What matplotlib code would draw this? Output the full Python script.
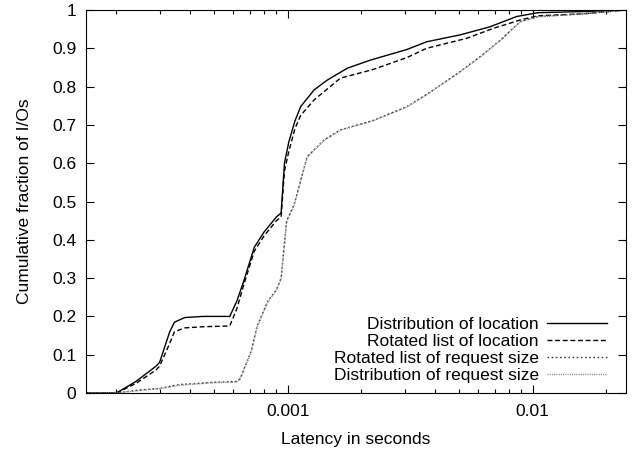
import numpy as np
import matplotlib
matplotlib.use("Agg")
import matplotlib.pyplot as plt
from matplotlib.ticker import FixedLocator, LogLocator, NullFormatter, FuncFormatter

plt.rcParams['font.family'] = ['Liberation Sans', 'DejaVu Sans']

# latency (s) / cumulative fraction
loc_x = [0.00015, 0.0002, 0.00024, 0.00029, 0.0003, 0.00033, 0.000345, 0.00038,
         0.00045, 0.00058, 0.00062, 0.00066, 0.00073, 0.0008, 0.0009, 0.00094,
         0.00097, 0.00101, 0.00107, 0.00113, 0.00128, 0.00145, 0.00175, 0.00217,
         0.00307, 0.00369, 0.00505, 0.00668, 0.0086, 0.0105, 0.016, 0.024]
loc_y = [0, 0, 0.03, 0.07, 0.08, 0.16, 0.185, 0.197,
         0.2, 0.2, 0.24, 0.29, 0.38, 0.42, 0.46, 0.47,
         0.6, 0.655, 0.71, 0.748, 0.791, 0.817, 0.848, 0.869,
         0.897, 0.917, 0.935, 0.956, 0.983, 0.993, 0.996, 1.0]

rot_loc_x = [0.00015, 0.0002, 0.00024, 0.00029, 0.0003, 0.00033, 0.000345, 0.00038,
             0.00045, 0.00058, 0.00062, 0.00066, 0.00073, 0.0008, 0.0009, 0.00094,
             0.00097, 0.00101, 0.00107, 0.00113, 0.00128, 0.00164, 0.00224, 0.00307,
             0.00369, 0.00537, 0.0069, 0.0089, 0.0105, 0.016, 0.024]
rot_loc_y = [0, 0, 0.025, 0.06, 0.07, 0.13, 0.16, 0.17,
             0.173, 0.175, 0.22, 0.28, 0.37, 0.41, 0.45, 0.46,
             0.58, 0.63, 0.69, 0.725, 0.765, 0.822, 0.845, 0.876,
             0.9, 0.926, 0.952, 0.974, 0.985, 0.99, 1.0]

rot_req_x = [0.00015, 0.0002, 0.00025, 0.0003, 0.00036, 0.0005, 0.00062, 0.00064,
             0.00068, 0.00071, 0.00075, 0.00083, 0.0009, 0.00094, 0.00099, 0.00106,
             0.0012, 0.00141, 0.00164, 0.00224, 0.00307, 0.00374, 0.00495, 0.0061,
             0.0074, 0.0089, 0.0105, 0.016, 0.024]
rot_req_y = [0, 0, 0.008, 0.012, 0.022, 0.028, 0.03, 0.038,
             0.08, 0.11, 0.175, 0.24, 0.27, 0.3, 0.45, 0.49,
             0.617, 0.661, 0.687, 0.712, 0.748, 0.782, 0.835, 0.878,
             0.922, 0.97, 0.983, 0.99, 1.0]

req_x = [0.00015, 0.0002, 0.00025, 0.0003, 0.00036, 0.0005, 0.00062, 0.00064,
         0.00068, 0.00071, 0.00075, 0.00083, 0.0009, 0.00094, 0.00099, 0.00106,
         0.0012, 0.00141, 0.00164, 0.00224, 0.00307, 0.00374, 0.00495, 0.0061,
         0.0074, 0.0089, 0.0105, 0.016, 0.024]
req_y = [0, 0, 0.007, 0.011, 0.02, 0.027, 0.029, 0.036,
         0.078, 0.108, 0.172, 0.238, 0.268, 0.298, 0.448, 0.488,
         0.615, 0.66, 0.686, 0.711, 0.747, 0.781, 0.834, 0.877,
         0.921, 0.969, 0.982, 0.99, 1.0]

fs = 12.5

fig = plt.figure(figsize=(6.36, 4.51), dpi=100)
ax = fig.add_axes([0.135, 0.1286, 0.849, 0.8492])

ax.plot(loc_x, loc_y, color='black', lw=1.0, label='Distribution of location')
ax.plot(rot_loc_x, rot_loc_y, color='black', lw=1.0, ls=(0, (3.5, 2)),
        label='Rotated list of location')
ax.plot(rot_req_x, rot_req_y, color='#333333', lw=1.0, ls=(0, (1.2, 1.8)),
        label='Rotated list of request size')
ax.plot(req_x, req_y, color='#888888', lw=1.0, ls=(0, (0.8, 0.8)),
        label='Distribution of request size')

ax.set_xscale('log')
ax.set_xlim(0.00015, 0.024)
ax.set_ylim(0, 1)

ax.xaxis.set_major_locator(FixedLocator([0.001, 0.01]))
ax.xaxis.set_major_formatter(FuncFormatter(lambda v, p: '%g' % v))
ax.xaxis.set_minor_locator(LogLocator(base=10, subs=np.arange(2, 10)))
ax.xaxis.set_minor_formatter(NullFormatter())
ax.yaxis.set_major_locator(FixedLocator(np.round(np.arange(0, 1.01, 0.1), 1)))
ax.yaxis.set_major_formatter(FuncFormatter(lambda v, p: '%g' % v))

ax.tick_params(which='both', direction='in', top=True, right=True, labelsize=fs)
ax.tick_params(which='major', length=6, width=0.8)
ax.tick_params(which='minor', length=3, width=0.8)
ax.tick_params(axis='x', which='major', pad=8)
ax.tick_params(axis='y', which='major', pad=7)

ax.set_xlabel('Latency in seconds', fontsize=fs, labelpad=9)
ax.set_ylabel('Cumulative fraction of I/Os', fontsize=fs, labelpad=14)

ax.legend(loc='lower right', frameon=False, markerfirst=False, fontsize=fs,
          handlelength=3.5, handletextpad=0.45, labelspacing=0.1,
          borderaxespad=0.2, bbox_to_anchor=(0.985, 0.0))

fig.savefig('out.png', dpi=100)
